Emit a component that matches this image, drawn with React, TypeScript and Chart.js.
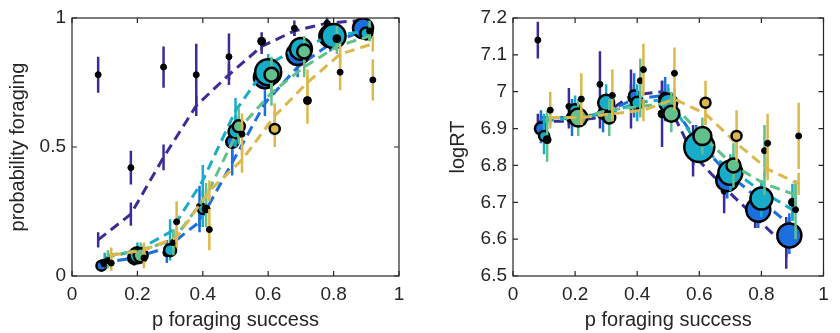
import React, { useEffect, useRef } from "react";
import { Chart, registerables } from "chart.js";
Chart.register(...registerables);

const FONT = '"Liberation Sans", Arial, Helvetica, sans-serif';
const TEXT = "#262626";

// ---- series (5 groups) ----
const seriesColors = ["#3a2e96", "#1b6fe0", "#17adc9", "#61c08b", "#dcb84c"];

// x positions (p foraging success, slightly jittered per group)
const xNavy = [0.08, 0.18, 0.28, 0.38, 0.48, 0.58, 0.68, 0.78, 0.88];
const xBlue = [0.09, 0.19, 0.29, 0.39, 0.49, 0.59, 0.69, 0.79, 0.89];
const xCyan = [0.1, 0.2, 0.3, 0.4, 0.5, 0.6, 0.7, 0.8, 0.9];
const xGreen = [0.11, 0.21, 0.31, 0.41, 0.51, 0.61, 0.71, 0.81, 0.91];
const xYellow = [0.12, 0.22, 0.32, 0.42, 0.52, 0.62, 0.72, 0.82, 0.92];

// ---- left panel: probability foraging ----
const pfNavy = [0.78, 0.42, 0.81, 0.78, 0.85, 0.91, 0.96, 0.98, 0.97];
const pfNavyErr = [0.07, 0.065, 0.08, 0.12, 0.09, 0.035, 0.03, 0.02, 0.02];
const pfNavySize = [3, 3, 3, 3, 3, 4, 3, 3, 3];
const pfNavyModel = [0.14, 0.24, 0.46, 0.66, 0.78, 0.89, 0.95, 0.98, 0.99];
const pfNavyModelErr = [0.03, 0.045, 0.05, 0.04, 0.04, 0.03, 0.02, 0.015, 0.01];

const pfBlue = [0.04, 0.07, 0.09, 0.27, 0.52, 0.77, 0.86, 0.93, 0.96];
const pfBlueErr = [0.02, 0.03, 0.04, 0.08, 0.06, 0.05, 0.05, 0.03, 0.02];
const pfBlueSize = [5, 6, 4, 3, 6, 11, 11, 11, 10];
const pfBlueModel = [0.05, 0.07, 0.11, 0.21, 0.44, 0.67, 0.81, 0.9, 0.95];
const pfBlueModelErr = [0.015, 0.02, 0.03, 0.04, 0.05, 0.05, 0.04, 0.03, 0.02];

const pfCyan = [0.05, 0.08, 0.1, 0.26, 0.56, 0.79, 0.88, 0.93, 0.94];
const pfCyanErr = [0.02, 0.03, 0.04, 0.07, 0.06, 0.05, 0.04, 0.03, 0.02];
const pfCyanSize = [4, 8, 6, 5, 7, 13, 11, 12, 6];
const pfCyanModel = [0.07, 0.1, 0.17, 0.37, 0.64, 0.82, 0.89, 0.93, 0.95];
const pfCyanModelErr = [0.02, 0.03, 0.05, 0.06, 0.05, 0.04, 0.03, 0.02, 0.02];

const pfGreen = [0.06, 0.08, 0.13, 0.26, 0.58, 0.78, 0.87, 0.92, 0.95];
const pfGreenErr = [0.03, 0.03, 0.05, 0.07, 0.07, 0.07, 0.06, 0.05, 0.04];
const pfGreenSize = [3, 7, 3, 4, 6, 7, 7, 4, 3];
const pfGreenModel = [0.08, 0.1, 0.14, 0.31, 0.57, 0.71, 0.81, 0.89, 0.93];
const pfGreenModelErr = [0.02, 0.03, 0.04, 0.05, 0.05, 0.05, 0.04, 0.03, 0.02];

const pfYellow = [0.05, 0.07, 0.21, 0.18, 0.55, 0.57, 0.68, 0.79, 0.76];
const pfYellowErr = [0.03, 0.04, 0.08, 0.08, 0.08, 0.07, 0.09, 0.07, 0.08];
const pfYellowSize = [3, 3, 3, 3, 3, 5, 4, 3, 3];
const pfYellowModel = [0.08, 0.1, 0.15, 0.33, 0.45, 0.62, 0.75, 0.86, 0.9];
const pfYellowModelErr = [0.03, 0.03, 0.04, 0.04, 0.05, 0.05, 0.05, 0.04, 0.03];

// ---- right panel: logRT ----
const rtNavy = [7.14, 6.96, 7.02, 6.98, 6.94, 6.84, 6.73, 6.68, 6.59];
const rtNavyErr = [0.05, 0.05, 0.09, 0.08, 0.09, 0.07, 0.06, 0.05, 0.07];
const rtNavySize = [3, 3, 3, 3, 4, 3, 3, 3, 3];
const rtNavyModel = [6.92, 6.92, 6.93, 6.99, 7.0, 6.83, 6.74, 6.66, 6.58];
const rtNavyModelErr = [0.02, 0.02, 0.03, 0.03, 0.03, 0.03, 0.03, 0.03, 0.03];

const rtBlue = [6.9, 6.93, 6.94, 6.99, 6.98, 6.86, 6.76, 6.68, 6.61];
const rtBlueErr = [0.04, 0.05, 0.05, 0.06, 0.06, 0.05, 0.05, 0.05, 0.05];
const rtBlueSize = [6, 5, 5, 5, 6, 7, 11, 12, 12];
const rtBlueModel = [6.93, 6.93, 6.94, 6.98, 6.99, 6.87, 6.78, 6.71, 6.64];
const rtBlueModelErr = [0.02, 0.02, 0.02, 0.03, 0.03, 0.03, 0.03, 0.03, 0.03];

const rtCyan = [6.88, 6.95, 6.97, 6.97, 6.97, 6.85, 6.78, 6.71, 6.7];
const rtCyanErr = [0.05, 0.04, 0.05, 0.05, 0.05, 0.04, 0.05, 0.05, 0.05];
const rtCyanSize = [5, 6, 8, 6, 9, 15, 12, 11, 4];
const rtCyanModel = [6.92, 6.93, 6.94, 6.97, 6.98, 6.85, 6.79, 6.73, 6.68];
const rtCyanModelErr = [0.02, 0.02, 0.02, 0.03, 0.03, 0.03, 0.03, 0.03, 0.03];

const rtGreen = [6.87, 6.93, 6.93, 7.03, 6.94, 6.88, 6.8, 6.84, 6.68];
const rtGreenErr = [0.06, 0.05, 0.05, 0.06, 0.05, 0.05, 0.06, 0.07, 0.08];
const rtGreenSize = [4, 9, 6, 3, 8, 9, 7, 3, 3];
const rtGreenModel = [6.93, 6.93, 6.95, 6.96, 6.97, 6.88, 6.8, 6.75, 6.72];
const rtGreenModelErr = [0.02, 0.02, 0.02, 0.03, 0.03, 0.03, 0.03, 0.03, 0.03];

const rtYellow = [6.95, 6.98, 6.99, 7.06, 7.05, 6.97, 6.88, 6.86, 6.88];
const rtYellowErr = [0.05, 0.07, 0.07, 0.07, 0.07, 0.06, 0.07, 0.08, 0.09];
const rtYellowSize = [3, 3, 3, 3, 3, 5, 5, 3, 3];
const rtYellowModel = [6.93, 6.93, 6.94, 6.95, 6.98, 6.94, 6.86, 6.79, 6.75];
const rtYellowModelErr = [0.02, 0.02, 0.02, 0.03, 0.03, 0.03, 0.03, 0.03, 0.03];

const xTitle = "p foraging success";
const leftYTitle = "probability foraging";
const rightYTitle = "logRT";

type Group = { x: number[]; data: number[]; err: number[]; size: number[]; model: number[]; modelErr: number[] };

const leftGroups: Group[] = [
  { x: xNavy, data: pfNavy, err: pfNavyErr, size: pfNavySize, model: pfNavyModel, modelErr: pfNavyModelErr },
  { x: xBlue, data: pfBlue, err: pfBlueErr, size: pfBlueSize, model: pfBlueModel, modelErr: pfBlueModelErr },
  { x: xCyan, data: pfCyan, err: pfCyanErr, size: pfCyanSize, model: pfCyanModel, modelErr: pfCyanModelErr },
  { x: xGreen, data: pfGreen, err: pfGreenErr, size: pfGreenSize, model: pfGreenModel, modelErr: pfGreenModelErr },
  { x: xYellow, data: pfYellow, err: pfYellowErr, size: pfYellowSize, model: pfYellowModel, modelErr: pfYellowModelErr },
];
const rightGroups: Group[] = [
  { x: xNavy, data: rtNavy, err: rtNavyErr, size: rtNavySize, model: rtNavyModel, modelErr: rtNavyModelErr },
  { x: xBlue, data: rtBlue, err: rtBlueErr, size: rtBlueSize, model: rtBlueModel, modelErr: rtBlueModelErr },
  { x: xCyan, data: rtCyan, err: rtCyanErr, size: rtCyanSize, model: rtCyanModel, modelErr: rtCyanModelErr },
  { x: xGreen, data: rtGreen, err: rtGreenErr, size: rtGreenSize, model: rtGreenModel, modelErr: rtGreenModelErr },
  { x: xYellow, data: rtYellow, err: rtYellowErr, size: rtYellowSize, model: rtYellowModel, modelErr: rtYellowModelErr },
];

function segments(xs: number[], vals: number[], errs: number[]) {
  const out: { x: number; y: number | null }[] = [];
  xs.forEach((x, i) => {
    out.push({ x, y: vals[i] - errs[i] });
    out.push({ x, y: vals[i] + errs[i] });
    out.push({ x, y: null });
  });
  return out;
}

function buildDatasets(groups: Group[]) {
  const seq: any[] = [];
  groups.forEach((g, gi) => {
    const c = seriesColors[gi];
    seq.push({
      type: "line",
      data: g.x.map((x, i) => ({ x, y: g.model[i] })),
      borderColor: c,
      borderWidth: 3,
      borderDash: [10, 6],
      pointRadius: 0,
      fill: false,
    });
    seq.push({
      type: "line",
      data: segments(g.x, g.model, g.modelErr),
      borderColor: c,
      borderWidth: 2.5,
      pointRadius: 0,
      spanGaps: false,
      fill: false,
    });
    seq.push({
      type: "line",
      data: segments(g.x, g.data, g.err),
      borderColor: c,
      borderWidth: 2.5,
      pointRadius: 0,
      spanGaps: false,
      fill: false,
    });
    seq.push({
      type: "scatter",
      data: g.x.map((x, i) => ({ x, y: g.data[i] })),
      backgroundColor: g.size.map((s) => (s <= 4 ? "#000" : c)),
      borderColor: "#000",
      borderWidth: g.size.map((s) => (s <= 4 ? 1 : 2.5)),
      pointRadius: g.size,
      showLine: false,
    });
  });
  const n = seq.length;
  return seq.map((d, i) => ({ ...d, order: n - i }));
}

const boxPlugin = {
  id: "matlabBox",
  afterDatasetsDraw(chart: any) {
    const { ctx, chartArea: a, scales } = chart;
    ctx.save();
    ctx.strokeStyle = TEXT;
    ctx.lineWidth = 1.2;
    ctx.strokeRect(a.left, a.top, a.right - a.left, a.bottom - a.top);
    const tl = 5;
    ctx.beginPath();
    scales.x.ticks.forEach((t: any) => {
      const px = scales.x.getPixelForValue(t.value);
      ctx.moveTo(px, a.bottom);
      ctx.lineTo(px, a.bottom - tl);
      ctx.moveTo(px, a.top);
      ctx.lineTo(px, a.top + tl);
    });
    scales.y.ticks.forEach((t: any) => {
      const py = scales.y.getPixelForValue(t.value);
      ctx.moveTo(a.left, py);
      ctx.lineTo(a.left + tl, py);
      ctx.moveTo(a.right, py);
      ctx.lineTo(a.right - tl, py);
    });
    ctx.stroke();
    ctx.restore();
  },
};

const fmt = (v: any) => String(Math.round(Number(v) * 10) / 10);

function makeConfig(groups: Group[], p: any): any {
  return {
    type: "scatter",
    data: { datasets: buildDatasets(groups) },
    plugins: [boxPlugin],
    options: {
      responsive: false,
      animation: false,
      events: [],
      layout: { padding: { top: 18, right: p.padRight, left: 0, bottom: 0 } },
      plugins: { legend: { display: false }, tooltip: { enabled: false } },
      scales: {
        x: {
          type: "linear",
          min: 0,
          max: 1,
          grid: { display: false, drawTicks: false },
          border: { display: false },
          ticks: { stepSize: 0.2, font: { size: 19, family: FONT }, color: TEXT, padding: 7, maxRotation: 0, autoSkip: false, callback: fmt },
          title: { display: true, text: xTitle, font: { size: 20, family: FONT }, color: TEXT, padding: { top: 0, bottom: 1 } },
          afterFit: (s: any) => {
            s.height = 57;
          },
        },
        y: {
          type: "linear",
          min: p.yMin,
          max: p.yMax,
          grid: { display: false, drawTicks: false },
          border: { display: false },
          ticks: { stepSize: p.yStep, font: { size: 19, family: FONT }, color: TEXT, padding: 6, autoSkip: false, callback: fmt },
          title: { display: true, text: p.yTitle, font: { size: 20, family: FONT }, color: TEXT, padding: { top: p.titlePad, bottom: 0 } },
          afterFit: (s: any) => {
            s.width = p.yWidth;
          },
        },
      },
    },
  };
}

export default function App() {
  const leftRef = useRef<HTMLCanvasElement>(null);
  const rightRef = useRef<HTMLCanvasElement>(null);
  useEffect(() => {
    Chart.defaults.font.family = FONT;
    const c1 = new Chart(
      leftRef.current as HTMLCanvasElement,
      makeConfig(leftGroups, { yMin: 0, yMax: 1, yStep: 0.5, yTitle: leftYTitle, yWidth: 72, titlePad: 6, padRight: 21 })
    );
    const c2 = new Chart(
      rightRef.current as HTMLCanvasElement,
      makeConfig(rightGroups, { yMin: 6.5, yMax: 7.2, yStep: 0.1, yTitle: rightYTitle, yWidth: 93, titlePad: 26, padRight: 0 })
    );
    return () => {
      c1.destroy();
      c2.destroy();
    };
  }, []);
  return (
    <div style={{ position: "absolute", left: 0, top: 0, width: 840, height: 333, overflow: "hidden", background: "#fff" }}>
      <canvas ref={leftRef} width={420} height={333} style={{ position: "absolute", left: 0, top: 0 }} />
      <canvas ref={rightRef} width={421} height={333} style={{ position: "absolute", left: 420, top: 0 }} />
    </div>
  );
}
